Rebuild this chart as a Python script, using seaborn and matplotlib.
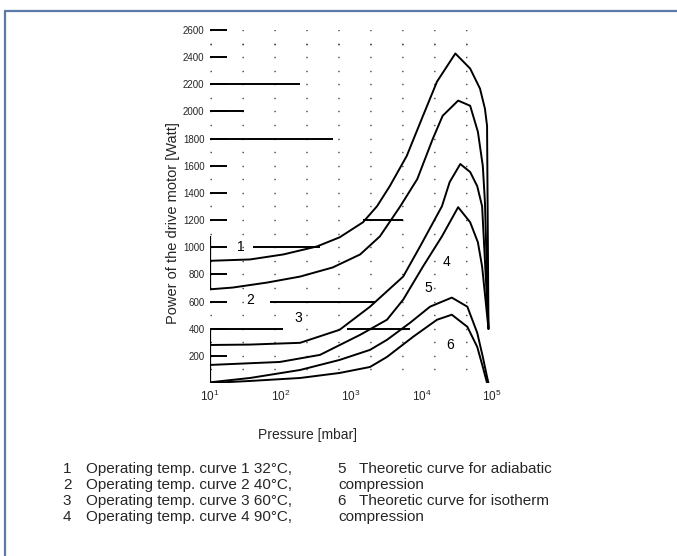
import matplotlib
matplotlib.use("Agg")
import matplotlib.pyplot as plt
import seaborn as sns
import pandas as pd
from matplotlib.lines import Line2D
from matplotlib.ticker import FixedLocator, LogLocator, NullLocator

sns.set_theme(style="white")
plt.rcParams['font.family'] = ['Liberation Sans', 'DejaVu Sans']

# ---- data (pressure in mbar, power in W) ----
p1 = [10, 37, 110, 330, 690, 1480, 2340, 3550, 6170, 10500, 16600, 30200, 49000, 67600, 79400, 85100, 89100]
w1 = [900, 910, 947, 1006, 1073, 1184, 1302, 1450, 1672, 1968, 2220, 2427, 2316, 2168, 2020, 1894, 400]

p2 = [10, 21, 65, 190, 550, 1350, 2570, 5010, 8710, 14450, 19950, 33100, 49000, 63100, 74100, 79400, 89100]
w2 = [690, 703, 740, 784, 851, 947, 1080, 1302, 1502, 1798, 1968, 2080, 2042, 1850, 1598, 1332, 400]

p3 = [10, 37, 190, 690, 1860, 5500, 9550, 19500, 25100, 35500, 49000, 61700, 72400, 89100]
w3 = [280, 283, 296, 392, 562, 784, 1006, 1302, 1480, 1613, 1554, 1450, 1302, 400]

p4 = [10, 98, 363, 1350, 3240, 5500, 10500, 19500, 33100, 49000, 63100, 72400, 89100]
w4 = [133, 155, 207, 355, 466, 614, 858, 1080, 1295, 1184, 1036, 858, 400]

p5 = [10, 37, 190, 690, 1860, 3240, 6900, 13200, 26900, 44700, 61700, 74100, 85100, 89100]
w5 = [5, 37, 96, 170, 244, 318, 444, 562, 629, 562, 370, 192, 44, 0]

p6 = [10, 37, 190, 690, 1860, 3240, 7590, 16600, 26900, 44700, 61700, 74100, 85100]
w6 = [0, 15, 37, 74, 118, 192, 340, 466, 503, 414, 266, 118, 0]

curve_ids = ["1", "2", "3", "4", "5", "6"]
label_p = [27, 37, 178, 22900, 12300, 25100]
label_w = [1000, 614, 481, 888, 703, 281]

y_ticks = [200, 400, 600, 800, 1000, 1200, 1400, 1600, 1800, 2000, 2200, 2400, 2600]

# partial grid-line fragments visible in the scanned original
frag_w = [2200, 2000, 1800, 1200, 1000, 600, 400, 400]
frag_p0 = [10, 10, 10, 1480, 41, 71, 10, 870]
frag_p1 = [190, 30, 550, 5500, 363, 2200, 108, 6800]
axis_w0 = [690, 0]
axis_w1 = [1080, 400]

legend_left = ["Operating temp. curve 1 32°C,", "Operating temp. curve 2 40°C,",
               "Operating temp. curve 3 60°C,", "Operating temp. curve 4 90°C,"]
legend_right = [("5", "Theoretic curve for adiabatic"), ("", "compression"),
                ("6", "Theoretic curve for isotherm"), ("", "compression")]

# ---- figure ----
W, H = 677, 556
fig = plt.figure(figsize=(W / 100, H / 100), dpi=100)
ax = fig.add_axes([210 / W, 1 - 383 / H, 282 / W, 353 / H])

frames = []
for cid, (p, w) in zip(curve_ids, [(p1, w1), (p2, w2), (p3, w3), (p4, w4), (p5, w5), (p6, w6)]):
    frames.append(pd.DataFrame({"p": p, "w": w, "curve": cid}))
df = pd.concat(frames, ignore_index=True)

sns.lineplot(data=df, x="p", y="w", units="curve", estimator=None, sort=False,
             color="black", lw=1.4, ax=ax, legend=False)

ax.hlines(frag_w, frag_p0, frag_p1, color="black", lw=1.4)
ax.vlines([10] * len(axis_w0), axis_w0, axis_w1, color="black", lw=1.6)

ax.set_xscale("log")
ax.set_xlim(10, 1e5)
ax.set_ylim(0, 2600)
ax.set_xlabel("")
ax.set_ylabel("")
ax.xaxis.set_major_locator(LogLocator(base=10, numticks=10))
ax.xaxis.set_minor_locator(NullLocator())
ax.yaxis.set_major_locator(FixedLocator(y_ticks))
ax.yaxis.set_minor_locator(FixedLocator([v - 100 for v in y_ticks] + [2500]))

for s in ax.spines.values():
    s.set_visible(False)

ax.tick_params(axis="y", which="major", direction="in", length=12, width=1.4,
               color="black", labelsize=7, pad=4, left=True)
ax.tick_params(axis="y", which="minor", length=0)
ax.tick_params(axis="x", which="major", length=0, labelsize=8.5, pad=4)

ax.grid(True, axis="y", which="both", color="#444444", lw=1.0, linestyle=(0, (1, 22)))

for cid, lp, lw_ in zip(curve_ids, label_p, label_w):
    ax.text(lp, lw_, cid, fontsize=10, ha="center", va="center", color="black")

fig.text(307 / W, 1 - 435 / H, "Pressure [mbar]", fontsize=10, ha="center", va="center")
fig.text(173 / W, 1 - 223 / H, "Power of the drive motor [Watt]", fontsize=10.5,
         ha="center", va="center", rotation=90)

# legend text block
y0 = 469
fs = 11
for i, txt in enumerate(legend_left):
    yy = 1 - (y0 + 16 * i) / H
    fig.text(67 / W, yy, str(i + 1), fontsize=fs, ha="center", va="center")
    fig.text(86 / W, yy, txt, fontsize=fs, ha="left", va="center")
for i, (num, txt) in enumerate(legend_right):
    yy = 1 - (y0 + 16 * i) / H
    if num:
        fig.text(342 / W, yy, num, fontsize=fs, ha="center", va="center")
        fig.text(359 / W, yy, txt, fontsize=fs, ha="left", va="center")
    else:
        fig.text(338 / W, yy, txt, fontsize=fs, ha="left", va="center")

# blue frame
fc = "#5b7ba6"
fig.add_artist(Line2D([5 / W, 1], [1 - 10.5 / H, 1 - 10.5 / H], color=fc, lw=1.6, transform=fig.transFigure))
fig.add_artist(Line2D([5.5 / W, 5.5 / W], [0, 1 - 10.5 / H], color=fc, lw=1.6, transform=fig.transFigure))

fig.savefig("out.png", dpi=100)
